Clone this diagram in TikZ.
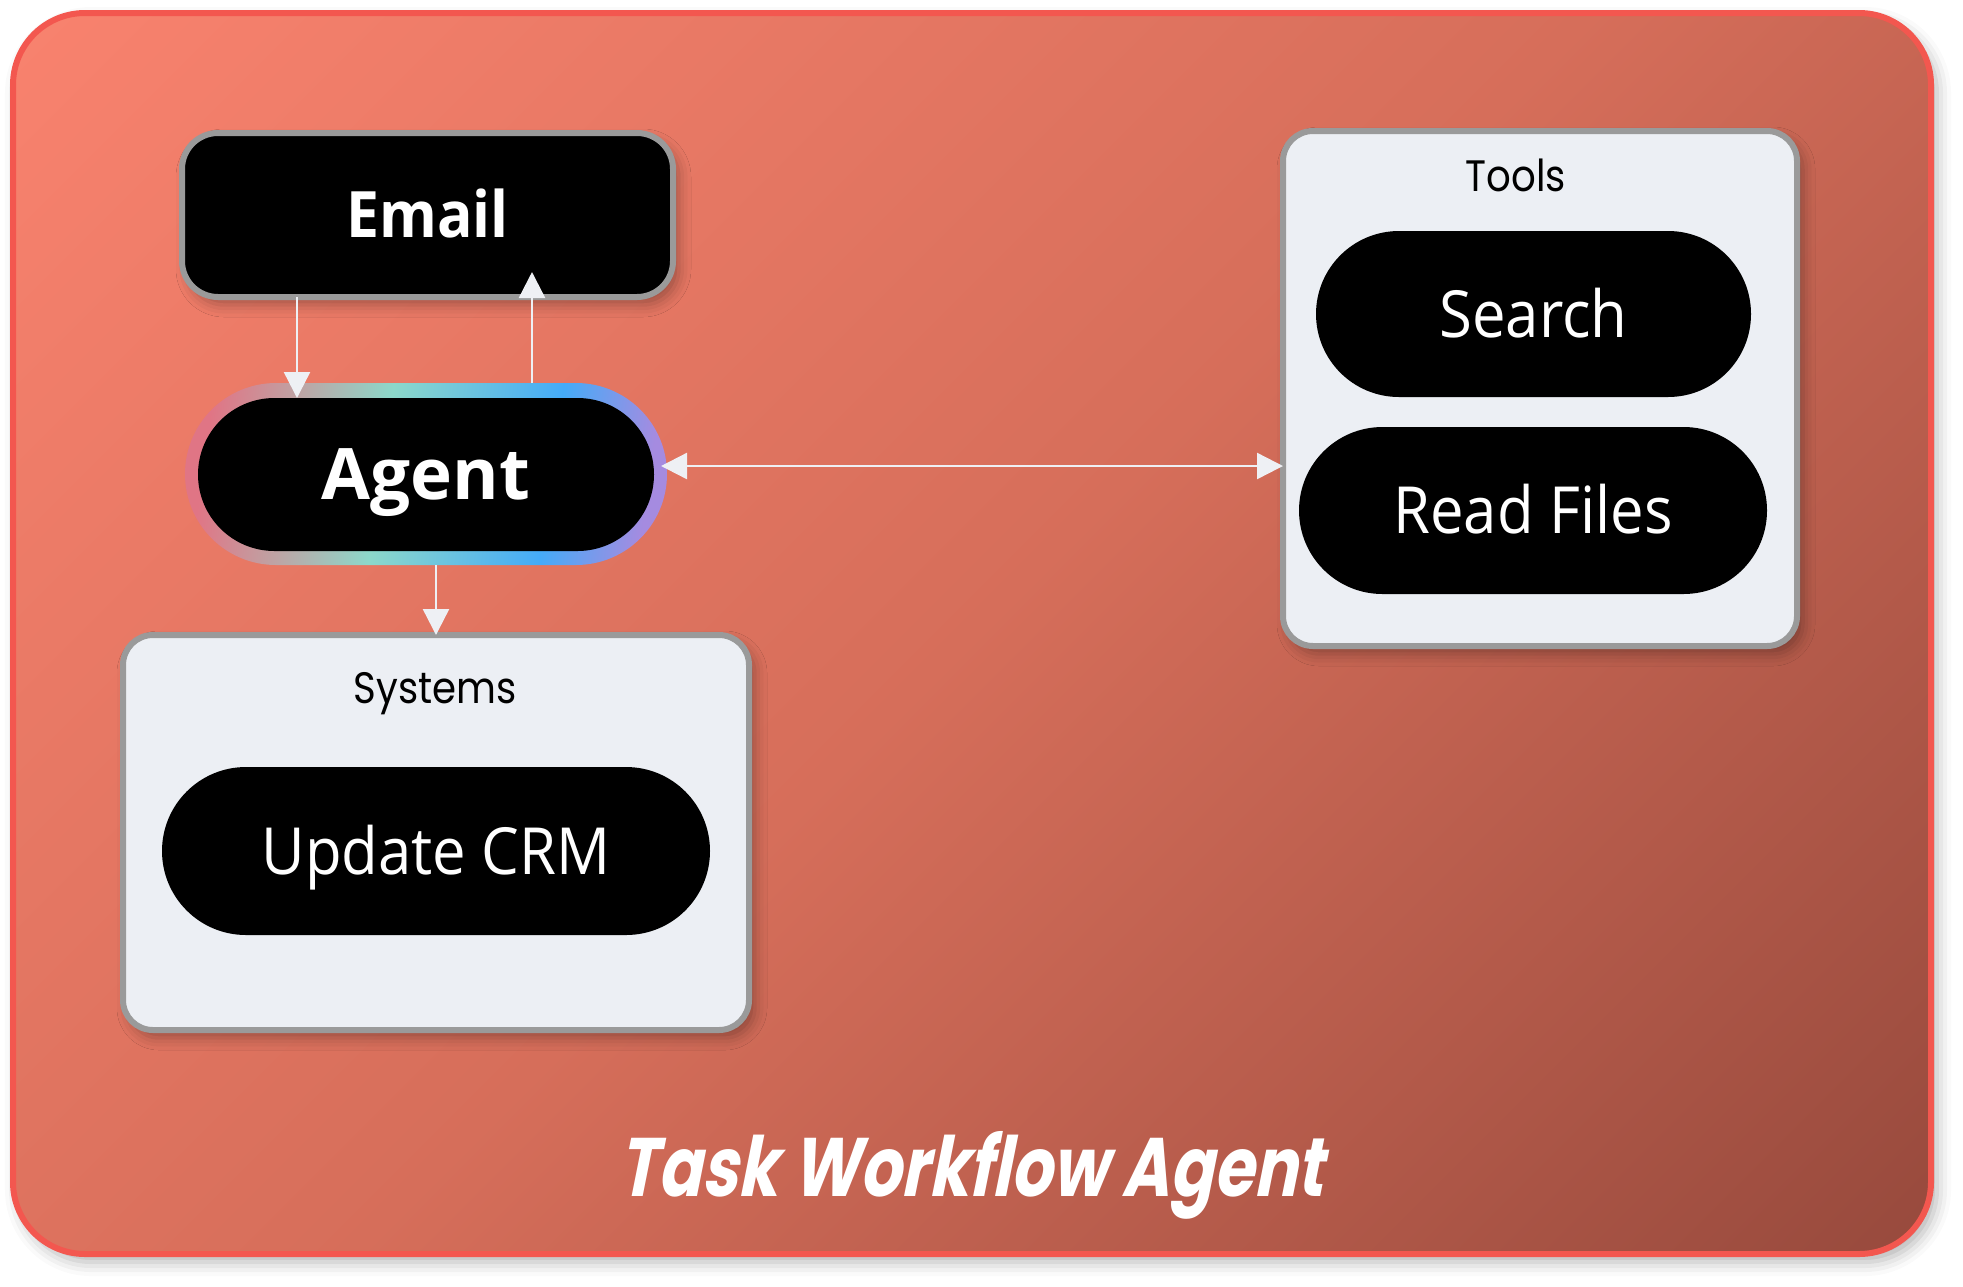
\documentclass[tikz,border=0pt]{standalone}
\usepackage{fontspec}
\usetikzlibrary{shapes.misc, arrows.meta, shadows.blur, calc}
\newfontfamily\uifont{Open Sans}[FakeStretch=0.92]
\newfontfamily\uiwidefont{Open Sans}
\newfontfamily\geofont{Poppins}[FakeStretch=0.88]
\newfontfamily\titlefont{Poppins}[FakeSlant=0.2, FakeStretch=0.78]
\definecolor{bgA}{HTML}{F8826E}
\definecolor{bgB}{HTML}{D66E5A}
\definecolor{bgC}{HTML}{984A3D}
\definecolor{frameRed}{HTML}{F3574F}
\definecolor{boxGray}{HTML}{9A9A9A}
\definecolor{panelFill}{HTML}{ECEFF4}
\definecolor{arrowCol}{HTML}{EEF0F4}
\definecolor{rPink}{HTML}{E07585}
\definecolor{rGray}{HTML}{BCA6A6}
\definecolor{rTeal}{HTML}{8CD8CA}
\definecolor{rBlue}{HTML}{45ABF8}
\definecolor{rPurple}{HTML}{A58BE0}
\pgfdeclarehorizontalshading{bgshade}{100bp}{color(0bp)=(bgA); color(15bp)=(bgA); color(50bp)=(bgB); color(85bp)=(bgC); color(100bp)=(bgC)}
\pgfdeclarehorizontalshading{ringshade}{100bp}{color(0bp)=(rPink); color(25bp)=(rPink); color(35bp)=(rGray); color(45bp)=(rTeal); color(64bp)=(rBlue); color(75bp)=(rPurple); color(100bp)=(rPurple)}
\begin{document}
\begin{tikzpicture}[x=0.5pt, y=-0.5pt,
  frame/.style={draw=frameRed, line width=3pt, shade, shading=bgshade, shading angle=-45,
    rounded corners=36pt, inner sep=0pt, outer sep=0pt,
    blur shadow={shadow xshift=3pt, shadow yshift=-4pt, shadow blur radius=7pt, shadow opacity=30}},
  darkbox/.style={draw=boxGray, line width=3pt, fill=black, rounded corners=18pt,
    inner sep=0pt, outer sep=0pt, text=white,
    blur shadow={shadow xshift=3pt, shadow yshift=-4pt, shadow blur radius=6pt, shadow opacity=30}},
  panel/.style={draw=boxGray, line width=3pt, fill=panelFill, rounded corners=15pt,
    inner sep=0pt, outer sep=0pt,
    blur shadow={shadow xshift=3pt, shadow yshift=-4pt, shadow blur radius=6pt, shadow opacity=30}},
  pill/.style={rounded rectangle, fill=black, text=white, inner sep=0pt, outer sep=0pt,
    font=\uifont\fontsize{32.5}{39}\selectfont, text height=23.2pt, text depth=0pt},
  ring/.style={rounded rectangle, shade, shading=ringshade, shading angle=-8, inner sep=0pt, outer sep=0pt},
  lbl/.style={anchor=base, font=\geofont\fontsize{22}{26}\selectfont, text=black},
  arr/.style={draw=arrowCol, line width=1.2pt, -{Triangle[width=13pt,length=13pt]}},
  arrboth/.style={draw=arrowCol, line width=1.2pt, {Triangle[width=13pt,length=13pt]}-{Triangle[width=13pt,length=13pt]}}
]
\useasboundingbox (0,0) rectangle (1963,1286);

% outer frame
\node[frame, minimum width=959pt, minimum height=620.5pt] (frame) at (972,633.5) {};

% agent
\node[ring, minimum width=241pt, minimum height=91pt] (ring) at (426,474) {};
\node[pill, minimum width=228pt, minimum height=76.5pt,
  font=\uiwidefont\bfseries\fontsize{35.5}{42}\selectfont, text height=25pt] (agent) at (426,474.5) {Agent};

% email
\node[darkbox, minimum width=245.5pt, minimum height=82pt,
  font=\uifont\bfseries\fontsize{32}{38}\selectfont, text height=22.75pt, text depth=0pt] (email) at (427.5,215) {Email};

% tools panel
\node[panel, minimum width=257pt, minimum height=257.5pt] (tools) at (1540,388.5) {};
\node[lbl] (toolslbl) at (1516,191) {Tools};
\node[pill, minimum width=217.5pt, minimum height=83pt] (search) at (1533.5,314) {Search};
\node[pill, minimum width=234pt, minimum height=83.5pt] (readfiles) at (1533,510.5) {Read Files};

% systems panel
\node[panel, minimum width=313pt, minimum height=197.5pt] (systems) at (436,832.5) {};
\node[lbl] (systemslbl) at (435,703) {Systems};
\node[pill, minimum width=274pt, minimum height=84pt] (crm) at (436,851) {Update CRM};

% title
\node[anchor=base, text=white, font=\titlefont\bfseries\fontsize{41.5}{50}\selectfont] (title) at (971,1196) {Task Workflow Agent};

% connectors
\coordinate (eDown) at ([xshift=-65.25pt]email.south);
\draw[arr] (eDown) -- (eDown |- agent.north);
\coordinate (aUp) at ([xshift=53pt]ring.north);
\draw[arr, shorten >=-12.5pt] (aUp) -- (aUp |- email.south);
\coordinate (aDown) at ([xshift=5pt]ring.south);
\draw[arr] (aDown) -- (aDown |- systems.north);
\coordinate (hL) at ([yshift=4pt, xshift=-3pt]ring.east);
\draw[arrboth] (hL) -- (hL -| tools.west);
\end{tikzpicture}
\end{document}
